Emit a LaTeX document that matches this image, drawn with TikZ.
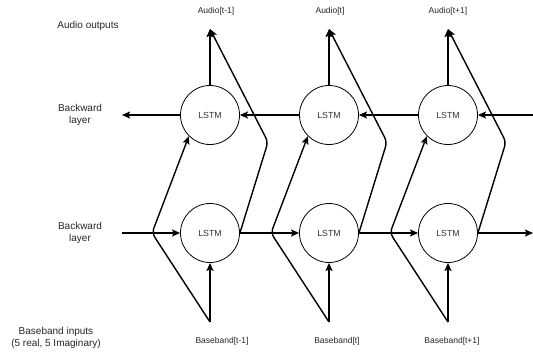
\documentclass[tikz,border=0pt]{standalone}
\usepackage{fontspec}
\setmainfont{Liberation Sans}
\usetikzlibrary{arrows.meta}
\begin{document}
\begin{tikzpicture}[x=1pt,y=-1pt,
  cell/.style={circle,draw,line width=0.8pt,minimum size=59pt,inner sep=0pt,font=\fontsize{8.8}{10}\selectfont,text=black!80},
  lbl/.style={font=\fontsize{10}{12}\selectfont,text=black!85,align=center},
  tlbl/.style={font=\fontsize{8.5}{10}\selectfont,text=black!85},
  arr/.style={line width=1.4pt,-{Stealth[length=8pt,width=7pt,inset=1.5pt]}},
  ln/.style={line width=1.4pt,rounded corners=5pt}]
\useasboundingbox (0,0) rectangle (533,356);
% cells
\foreach \i/\x in {1/210,2/329,3/448}{
  \node[cell] (t\i) at (\x,115) {LSTM};
  \node[cell] (b\i) at (\x,233) {LSTM};
  \coordinate (tip\i) at (\x,29);
  \coordinate (base\i) at (\x,322);
  \coordinate (k\i) at (\x-58,233);
  \coordinate (c\i) at (\x+58,142);
}
\node[tlbl] (a1) at (216,11) {Audio[t-1]};
\node[tlbl] (a2) at (330,11) {Audio[t]};
\node[tlbl] (a3) at (448,11) {Audio[t+1]};
\node[tlbl] (bb1) at (222,341) {Baseband[t-1]};
\node[tlbl] (bb2) at (337,341) {Baseband[t]};
\node[tlbl] (bb3) at (452,341) {Baseband[t+1]};
% left labels
\node[lbl] (lo) at (88,26) {Audio outputs};
\node[lbl] (lb1) at (80,115) {Backward\\layer};
\node[lbl] (lb2) at (80,233) {Backward\\layer};
\node[lbl] (li) at (56,338) {Baseband inputs\\(5 real, 5 Imaginary)};
\coordinate (rt) at (533,115);
\coordinate (lt) at (122,115);
\coordinate (lb) at (122,233);
\coordinate (rb) at (533,233);
% horizontal connections
\draw[arr] (rt) -- (t3.east);
\draw[arr] (t3.west) -- (t2.east);
\draw[arr] (t2.west) -- (t1.east);
\draw[arr] (t1.west) -- (lt);
\draw[arr] (lb) -- (b1.west);
\draw[arr] (b1.east) -- (b2.west);
\draw[arr] (b2.east) -- (b3.west);
\draw[arr] (b3.east) -- (rb);
% vertical and diagonal
\foreach \i in {1,2,3}{
  \draw[arr] (t\i.north) -- (tip\i);
  \draw[arr] (base\i) -- (b\i.south);
  \draw[ln,arr] (base\i) -- (k\i) -- (t\i.225);
  \draw[ln,arr] (b\i.east) -- (c\i) -- (tip\i);
}
\end{tikzpicture}
\end{document}
